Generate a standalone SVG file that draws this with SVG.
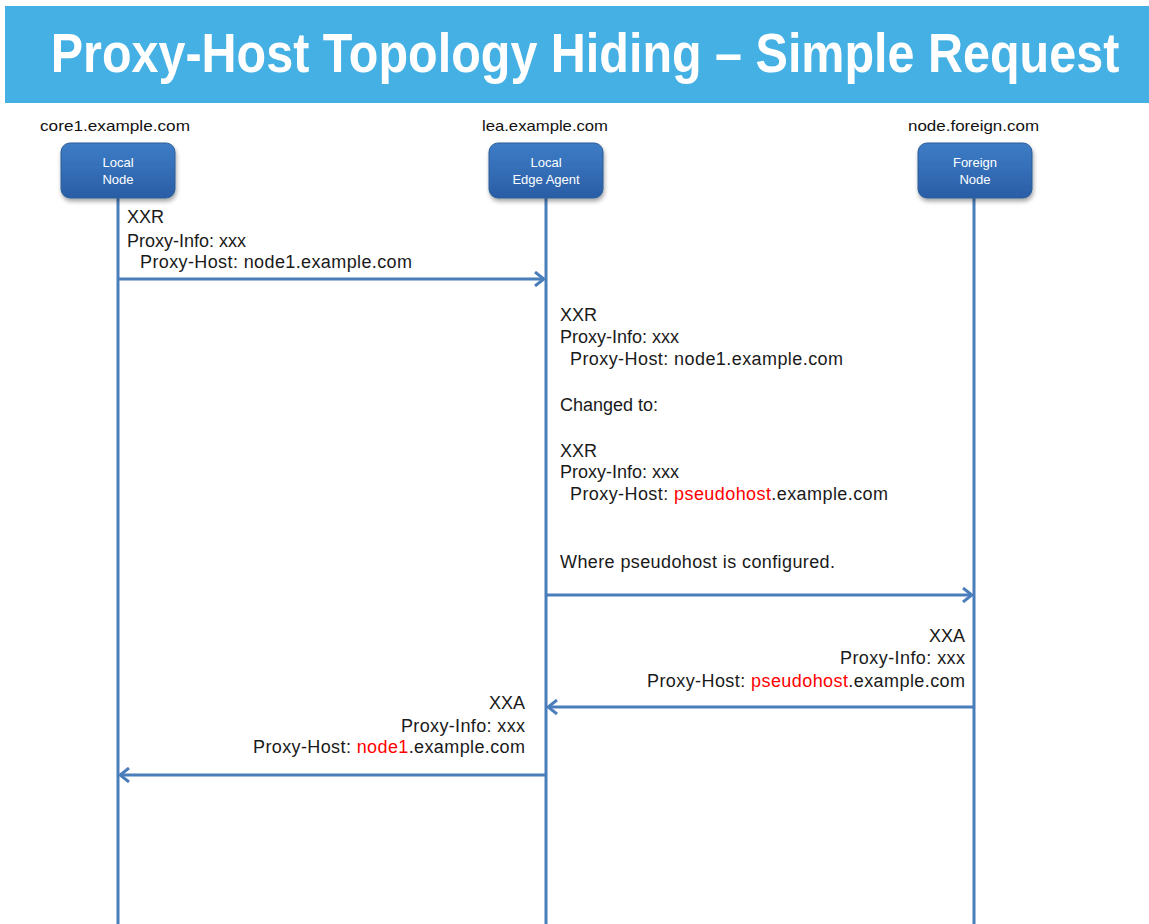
<svg xmlns="http://www.w3.org/2000/svg" width="1149" height="924" viewBox="0 0 1149 924">
<style>
.t{font-family:"Liberation Sans",Arial,sans-serif;font-size:18px;fill:#1a1a1a}
.host{font-family:"Liberation Sans",Arial,sans-serif;font-size:15px;fill:#111}
.nt{font-family:"Liberation Sans",Arial,sans-serif;font-size:13px;fill:#fff;text-anchor:middle}
.red{fill:#ff0000}
.life{stroke:#4a7ebb;stroke-width:3;fill:none}
.msg{stroke:#4a7ebb;stroke-width:3;fill:none}
.box{fill:url(#g);stroke:#2c5d98;stroke-width:1}
.r{text-anchor:end}
</style>
<defs>
<linearGradient id="g" x1="0" y1="0" x2="0" y2="1">
<stop offset="0" stop-color="#3d7dc6"/>
<stop offset="1" stop-color="#2a5ea6"/>
</linearGradient>
<filter id="sh" x="-10%" y="-10%" width="130%" height="140%">
<feDropShadow dx="1" dy="3" stdDeviation="2" flood-color="#000" flood-opacity="0.35"/>
</filter>
<marker id="ah" viewBox="0 0 12 16" refX="11" refY="8" markerWidth="12" markerHeight="16" markerUnits="userSpaceOnUse" orient="auto">
<path d="M2,1 L11,8 L2,15" fill="none" stroke="#4a7ebb" stroke-width="3"/>
</marker>
</defs>
<rect x="0" y="0" width="1149" height="924" fill="#fff"/>
<g id="banner">
<rect x="5" y="6" width="1144" height="97" fill="#45b0e4"/>
<text transform="translate(585,72) scale(1,1.15)" x="0" y="0" text-anchor="middle" font-family="'Liberation Sans',Arial,sans-serif" font-weight="bold" font-size="48.5" fill="#fff">Proxy-Host Topology Hiding – Simple Request</text>
</g>
<g id="lifelines">
<line class="life" x1="118" y1="198" x2="118" y2="924"/>
<line class="life" x1="546" y1="198" x2="546" y2="924"/>
<line class="life" x1="974" y1="198" x2="974" y2="924"/>
</g>
<g id="node-local">
<text class="host" x="40" y="131" textLength="150" lengthAdjust="spacingAndGlyphs">core1.example.com</text>
<rect class="box" x="61" y="143" width="114" height="55" rx="9" filter="url(#sh)"/>
<text class="nt" x="118" y="167">Local</text>
<text class="nt" x="118" y="184">Node</text>
</g>
<g id="node-lea">
<text class="host" x="482" y="131" textLength="126" lengthAdjust="spacingAndGlyphs">lea.example.com</text>
<rect class="box" x="489" y="143" width="114" height="55" rx="9" filter="url(#sh)"/>
<text class="nt" x="546" y="167">Local</text>
<text class="nt" x="546" y="184">Edge Agent</text>
</g>
<g id="node-foreign">
<text class="host" x="908" y="131" textLength="131" lengthAdjust="spacingAndGlyphs">node.foreign.com</text>
<rect class="box" x="918" y="143" width="114" height="55" rx="9" filter="url(#sh)"/>
<text class="nt" x="975" y="167">Foreign</text>
<text class="nt" x="975" y="184">Node</text>
</g>
<g id="connectors">
<line class="msg" x1="118" y1="279" x2="544" y2="279" marker-end="url(#ah)"/>
<line class="msg" x1="546" y1="595" x2="972" y2="595" marker-end="url(#ah)"/>
<line class="msg" x1="974" y1="707" x2="548" y2="707" marker-end="url(#ah)"/>
<line class="msg" x1="546" y1="775" x2="120" y2="775" marker-end="url(#ah)"/>
</g>
<g id="labels">
<text class="t" x="127" y="223">XXR</text>
<text class="t" x="127" y="247">Proxy-Info: xxx</text>
<text class="t" x="140" y="268" textLength="272">Proxy-Host: node1.example.com</text>

<text class="t" x="560" y="321">XXR</text>
<text class="t" x="560" y="343">Proxy-Info: xxx</text>
<text class="t" x="570" y="365" textLength="273">Proxy-Host: node1.example.com</text>
<text class="t" x="560" y="411">Changed to:</text>
<text class="t" x="560" y="457">XXR</text>
<text class="t" x="560" y="478">Proxy-Info: xxx</text>
<text class="t" x="570" y="500" textLength="318">Proxy-Host: <tspan class="red">pseudohost</tspan>.example.com</text>
<text class="t" x="560" y="568" textLength="275">Where pseudohost is configured.</text>

<text class="t r" x="965" y="642">XXA</text>
<text class="t r" x="965" y="664" textLength="125">Proxy-Info: xxx</text>
<text class="t r" x="965" y="687" textLength="318">Proxy-Host: <tspan class="red">pseudohost</tspan>.example.com</text>

<text class="t r" x="525" y="709">XXA</text>
<text class="t r" x="525" y="732" textLength="124">Proxy-Info: xxx</text>
<text class="t r" x="525" y="753" textLength="272">Proxy-Host: <tspan class="red">node1</tspan>.example.com</text>
</g>
</svg>
